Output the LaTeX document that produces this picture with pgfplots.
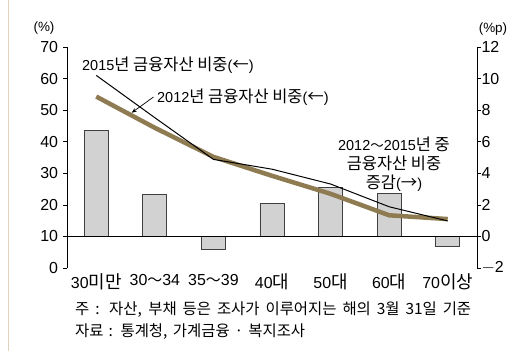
\documentclass[border=0pt]{standalone}
\usepackage{pgfplots}
\pgfplotsset{compat=1.18}
\usetikzlibrary{arrows.meta}
\usepackage{fontspec}
\setmainfont{Liberation Sans}
\newfontfamily\kr{Noto Sans CJK KR}
\definecolor{tanline}{RGB}{143,123,82}
\definecolor{barfill}{RGB}{210,210,210}
\definecolor{border}{RGB}{224,208,190}
\newcommand{\K}[1]{{\kr\fontsize{18}{20}\selectfont #1}}
\newcommand{\T}{{\kr\fontsize{15}{18}\selectfont ～}}
\newcommand{\A}[1]{{\kr\fontsize{16.5}{19}\selectfont #1}}
\begin{document}
\begin{tikzpicture}[x=1bp,y=1bp]
\path[use as bounding box] (0,0) rectangle (530,351);
\draw[border, line width=1.5bp] (8.5,0) -- (8.5,351);
% right axis: bars (%p)
\begin{axis}[at={(67bp,83bp)}, anchor=south west, scale only axis,
  width=410bp, height=221bp,
  xmin=-0.5, xmax=6.5, ymin=-2, ymax=12,
  axis y line*=right, axis x line=none,
  ytick={-2,0,2,4,6,8,10,12},
  yticklabels={$-$2,0,2,4,6,8,10,12},
  tick align=outside, major tick length=4bp,
  tick style={black, line width=0.6bp},
  axis line style={black, line width=0.6bp},
  y tick label style={font=\fontsize{16}{18}\selectfont, xshift=-3bp},
  /pgf/number format/assume math mode=true,
  clip=false]
\addplot[ybar, bar width=0.41, fill=barfill, draw=black!75, line width=0.8bp]
  coordinates {(0,6.74) (1,2.64) (2,-0.84) (3,2.07) (4,3.12) (5,2.70) (6,-0.63)};
\addplot[black, line width=0.8bp] coordinates {(-0.5,0) (6.5,0)};
\end{axis}
% left axis: lines (%)
\begin{axis}[at={(67bp,83bp)}, anchor=south west, scale only axis,
  width=410bp, height=221bp,
  xmin=-0.5, xmax=6.5, ymin=0, ymax=70,
  axis y line*=left, axis x line*=bottom,
  x axis line style={draw=none},
  xtick={0,1,2,3,4,5,6},
  xticklabels={30\K{미만},30\T34,35\T39,40\K{대},50\K{대},60\K{대},70\K{이상}},
  x tick style={draw=none},
  x tick label style={font=\fontsize{16}{18}\selectfont, yshift=1.5bp},
  ytick={0,10,20,30,40,50,60,70},
  tick align=outside, major tick length=4bp,
  y tick style={black, line width=0.6bp},
  axis line style={black, line width=0.6bp},
  y tick label style={font=\fontsize{16}{18}\selectfont, xshift=-1.5bp},
  /pgf/number format/assume math mode=true,
  clip=false]
\addplot[tanline, line width=4.5bp, line join=round]
  coordinates {(0,54.3) (1,44.4) (2,35.2) (3,29.2) (4,23.5) (5,16.7) (6,15.5)};
\addplot[black, line width=1bp, line join=round]
  coordinates {(0,61.0) (1,47.6) (2,34.4) (3,31.3) (4,26.6) (5,19.4) (6,14.9)};
\end{axis}
% unit labels
\node[font=\fontsize{13.5}{15}\selectfont] at (44,323) {(\%)};
\node[font=\fontsize{13.5}{15}\selectfont] at (493,322) {(\%p)};
% annotations
\node[anchor=west, font=\fontsize{14.5}{19}\selectfont, inner sep=0] at (82,286)
  {2015\A{년 금융자산 비중}(\A{←})};
\node[anchor=west, font=\fontsize{14.5}{19}\selectfont, inner sep=0] at (157,254)
  {2012\A{년 금융자산 비중}(\A{←})};
\draw[black, line width=0.7bp, -{Stealth[length=5bp,width=4bp]}] (153.5,254) -- (131.7,238.3);
\node[align=center, font=\fontsize{14.5}{19}\selectfont, inner sep=0] at (394,187)
  {2012{\kr\fontsize{13.5}{19}\selectfont ～}2015\A{년 중}\\\A{금융자산 비중}\\\A{증감}(\A{→})};
% notes
\node[anchor=west, font=\kr\fontsize{15.5}{17}\selectfont, inner sep=0] at (75,41)
  {\makebox[396bp][s]{주 : 자산, 부채 등은 조사가 이루어지는 해의 3월 31일 기준}};
\node[anchor=west, font=\kr\fontsize{15.5}{17}\selectfont, inner sep=0] at (75,19)
  {\makebox[230bp][s]{자료 : 통계청, 가계금융 · 복지조사}};
\end{tikzpicture}
\end{document}
